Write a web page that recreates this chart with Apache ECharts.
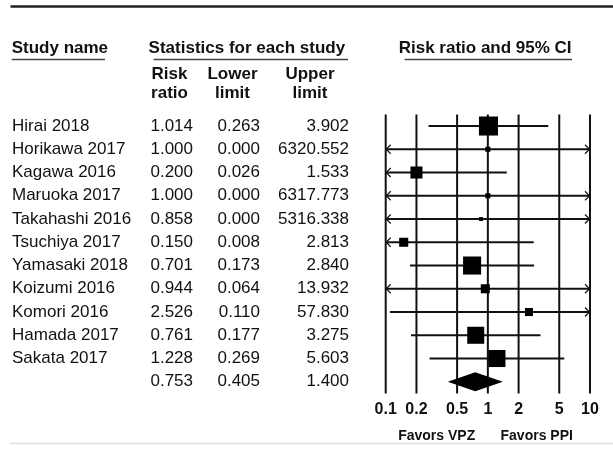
<!DOCTYPE html>
<html>
<head>
<meta charset="utf-8">
<script src="https://cdn.jsdelivr.net/npm/echarts@6/dist/echarts.min.js"></script>
<style>html,body{margin:0;padding:0;background:#fff}#c{width:613px;height:450px}</style>
</head>
<body>
<div id="c"></div>
<script>
const studies = ['Hirai 2018','Horikawa 2017','Kagawa 2016','Maruoka 2017','Takahashi 2016','Tsuchiya 2017','Yamasaki 2018','Koizumi 2016','Komori 2016','Hamada 2017','Sakata 2017'];
const riskRatio = [1.014,1.000,0.200,1.000,0.858,0.150,0.701,0.944,2.526,0.761,1.228];
const lowerLimit = [0.263,0.000,0.026,0.000,0.000,0.008,0.173,0.064,0.110,0.177,0.269];
const upperLimit = [3.902,6320.552,1.533,6317.773,5316.338,2.813,2.840,13.932,57.830,3.275,5.603];
const weights = [21.2,1.5,8.5,1.5,0.9,4.8,19.1,4.8,3.8,17.0,17.0];
const pooled = [0.753,0.405,1.400];
const tickValues = [0.1,0.2,0.5,1,2,5,10];
const tickLabels = ['0.1','0.2','0.5','1','2','5','10'];

const FONT = '"Liberation Sans", Arial, sans-serif';
const INK = '#111';
const AXMIN = 0.1, AXMAX = 10;
const nRows = studies.length + 1;

const chart = echarts.init(document.getElementById('c'), null, {renderer:'canvas'});

const rowData = studies.map((s,i)=>[i, riskRatio[i], lowerLimit[i], upperLimit[i], weights[i]]);
const tableData = studies.map((s,i)=>[i, 1]).concat([[studies.length, 1]]);

function txt(x, y, text, align, bold, size) {
  return {type:'text', style:{x:x, y:y, text:text, textAlign:align, textVerticalAlign:'middle',
    font:(bold?'bold ':'')+(size||17)+'px '+FONT, fill:INK}};
}

const option = {
  animation:false,
  backgroundColor:'#fff',
  grid:{left:385.7, right:23, top:114.4, height:279},
  xAxis:{type:'log', logBase:10, min:AXMIN, max:AXMAX, show:false},
  yAxis:{type:'value', inverse:true, min:-0.5, max:nRows-0.5, show:false},
  graphic:[
    {type:'line', shape:{x1:10.5,y1:6.5,x2:613,y2:6.5}, style:{stroke:'#222', lineWidth:2.5}},
    {type:'line', shape:{x1:10,y1:443.5,x2:613,y2:443.5}, style:{stroke:'#ddd', lineWidth:1.5}},
    txt(11.7, 48, 'Study name', 'left', true),
    txt(148.6, 48, 'Statistics for each study', 'left', true),
    txt(398.7, 48, 'Risk ratio and 95% CI', 'left', true),
    {type:'line', shape:{x1:11.7,y1:59.5,x2:105,y2:59.5}, style:{stroke:'#444', lineWidth:1.3}},
    {type:'line', shape:{x1:153.6,y1:59.5,x2:348,y2:59.5}, style:{stroke:'#444', lineWidth:1.3}},
    {type:'line', shape:{x1:404.6,y1:59.5,x2:572,y2:59.5}, style:{stroke:'#444', lineWidth:1.3}},
    txt(169.5, 74, 'Risk', 'center', true),
    txt(169.5, 93.5, 'ratio', 'center', true),
    txt(232.5, 74, 'Lower', 'center', true),
    txt(232.5, 93.5, 'limit', 'center', true),
    txt(310, 74, 'Upper', 'center', true),
    txt(310, 93.5, 'limit', 'center', true),
    txt(436.7, 436.5, 'Favors VPZ', 'center', true, 14),
    txt(536.7, 436.5, 'Favors PPI', 'center', true, 14)
  ],
  series:[
    {
      type:'custom', name:'ref', clip:false, silent:true,
      data: tickValues.map((v,k)=>[v,k]),
      encode:{x:0},
      renderItem:function(params, api){
        const v = api.value(0), k = api.value(1);
        const top = api.coord([v, -0.5]);
        const bot = api.coord([v, nRows-0.5]);
        return {type:'group', children:[
          {type:'line', shape:{x1:top[0],y1:top[1],x2:bot[0],y2:bot[1]}, style:{stroke:INK, lineWidth:2}},
          {type:'text', style:{x:bot[0], y:bot[1]+16.5, text:tickLabels[k], textAlign:'center', textVerticalAlign:'middle', font:'bold 16px '+FONT, fill:INK}}
        ]};
      }
    },
    {
      type:'custom', name:'table', clip:false, silent:true,
      data: tableData,
      encode:{x:1, y:0},
      renderItem:function(params, api){
        const i = api.value(0);
        const y = api.coord([1, i])[1];
        let name, a, b, c;
        if (i < studies.length) { name = studies[i]; a = riskRatio[i]; b = lowerLimit[i]; c = upperLimit[i]; }
        else { name = ''; a = pooled[0]; b = pooled[1]; c = pooled[2]; }
        return {type:'group', children:[
          txt(12, y, name, 'left', false),
          txt(193, y, a.toFixed(3), 'right', false),
          txt(260, y, b.toFixed(3), 'right', false),
          txt(349, y, c.toFixed(3), 'right', false)
        ]};
      }
    },
    {
      type:'custom', name:'ci', clip:false, silent:true,
      data: rowData,
      encode:{x:1, y:0},
      renderItem:function(params, api){
        const i = api.value(0), rr = api.value(1), lo = api.value(2), hi = api.value(3), w = api.value(4);
        const c = api.coord([rr, i]);
        const y = c[1];
        const xmin = api.coord([AXMIN, i])[0], xmax = api.coord([AXMAX, i])[0];
        const loOut = !(lo > AXMIN), hiOut = hi > AXMAX;
        const xl = loOut ? xmin : api.coord([lo, i])[0];
        const xr = hiOut ? xmax : api.coord([hi, i])[0];
        const ch = [{type:'line', shape:{x1:xl,y1:y,x2:xr,y2:y}, style:{stroke:INK, lineWidth:2}}];
        if (loOut) ch.push({type:'polyline', shape:{points:[[xmin+5,y-4.5],[xmin+0.5,y],[xmin+5,y+4.5]]}, style:{stroke:INK, lineWidth:1.2, fill:null}});
        if (hiOut) ch.push({type:'polyline', shape:{points:[[xmax-5,y-4.5],[xmax-0.5,y],[xmax-5,y+4.5]]}, style:{stroke:INK, lineWidth:1.2, fill:null}});
        const s = Math.sqrt(w) * 4.13;
        ch.push({type:'rect', shape:{x:c[0]-s/2, y:y-s/2, width:s, height:s}, style:{fill:'#000'}});
        return {type:'group', children:ch};
      }
    },
    {
      type:'custom', name:'pooled', clip:false, silent:true,
      data:[[studies.length, pooled[0], pooled[1], pooled[2]]],
      encode:{x:1, y:0},
      renderItem:function(params, api){
        const i = api.value(0);
        const m = api.coord([api.value(1), i]);
        const l = api.coord([api.value(2), i]);
        const r = api.coord([api.value(3), i]);
        const h = 9.5;
        return {type:'polygon', shape:{points:[[l[0],m[1]],[m[0],m[1]-h],[r[0],m[1]],[m[0],m[1]+h]]}, style:{fill:'#000'}};
      }
    }
  ]
};
chart.setOption(option);
</script>
</body>
</html>
